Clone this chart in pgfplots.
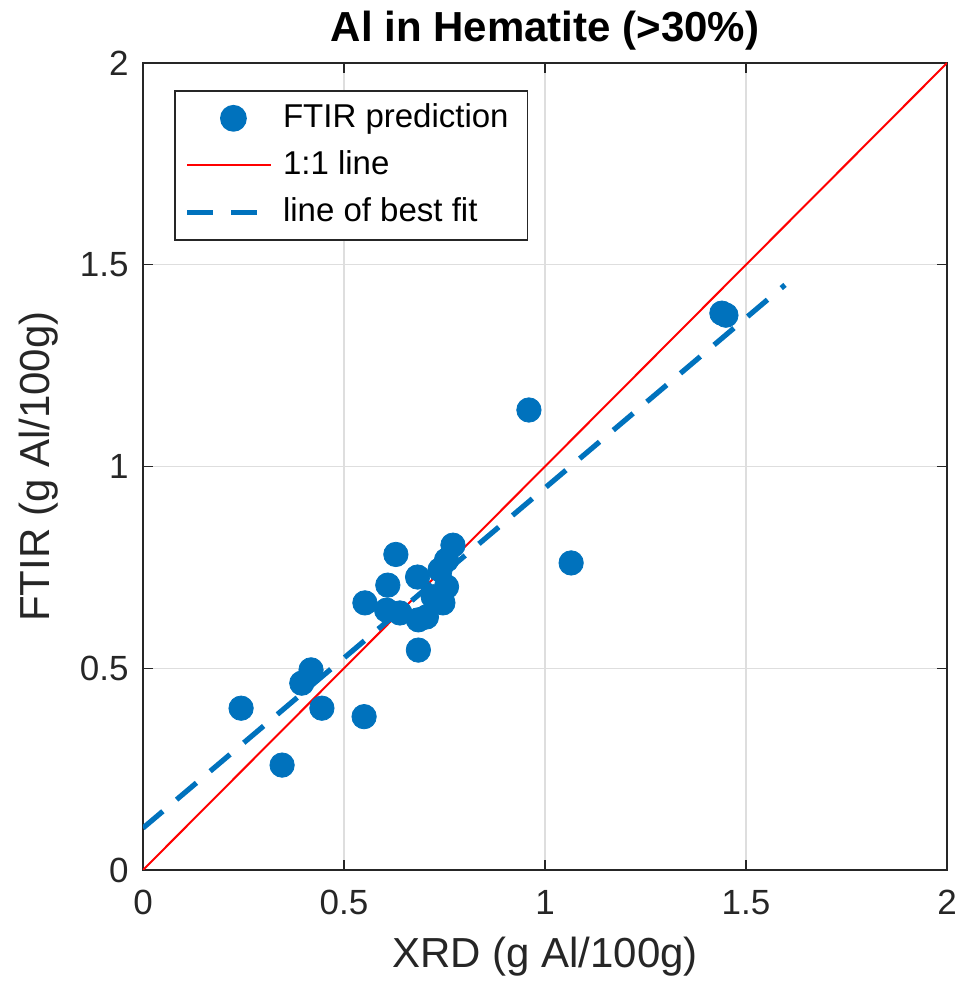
\documentclass[border=0pt]{standalone}
\usepackage{fontspec}
\setmainfont{Liberation Sans}
\usepackage{pgfplots}
\pgfplotsset{compat=1.18}
\definecolor{mblue}{RGB}{0,114,189}
\definecolor{gridgray}{RGB}{222,222,222}
\definecolor{axgray}{RGB}{38,38,38}

\begin{document}
\begin{tikzpicture}
\begin{axis}[
    name=ax,
    scale only axis,
    width=402pt,
    height=403.5pt,
    xmin=0, xmax=2,
    ymin=0, ymax=2,
    xtick={0,0.5,...,2},
    ytick={0,0.5,...,2},
    xticklabels={0,0.5,1,1.5,2},
    yticklabels={0,0.5,1,1.5,2},
    tick align=inside,
    major tick length=5pt,
    tick style={axgray, line width=0.7pt},
    axis line style={axgray, line width=0.8pt},
    grid=major,
    grid style={gridgray, line width=0.7pt},
    ticklabel style={font=\fontsize{17.5}{20}\selectfont, text=axgray},
    xticklabel style={inner xsep=2.5pt, yshift=-6.7pt},
    yticklabel style={xshift=-3.7pt},
    xlabel={XRD (g Al/100g)},
    ylabel={FTIR (g Al/100g)},
    label style={font=\fontsize{21}{24}\selectfont, text=axgray},
    xlabel style={at={(axis description cs:0.5,0)}, anchor=base, yshift=-48.5pt},
    ylabel style={at={(axis description cs:0,0.5)}, anchor=base, yshift=46.5pt},
    every axis title shift=0pt,
    title={\textbf{Al in Hematite (>30\%)}},
    title style={font=\fontsize{21}{24}\selectfont, at={(axis description cs:0.5,1)}, anchor=base, yshift=10.5pt},
    legend style={at={(0.0386,0.9665)}, anchor=north west,
        draw=axgray, line width=0.8pt, fill=white,
        font=\fontsize{16.5}{19}\selectfont,
        nodes={text height=13pt, text depth=3.5pt, inner xsep=4.5pt, inner ysep=0pt},
        row sep=7pt,
        inner xsep=5pt, inner ysep=5.5pt},
    legend cell align=left,
    legend image code/.code={
        \draw[#1] (0pt,0pt) -- (42pt,0pt);
    },
]
\addplot[only marks, mark=*, mark size=6.1pt, mark options={draw=mblue, fill=mblue},
    legend image code/.code={\fill[mblue] (23pt,0pt) circle (6.3pt);}]
coordinates {
(0.244,0.401) (0.346,0.260) (0.395,0.463) (0.418,0.496) (0.445,0.401)
(0.550,0.380) (0.552,0.662) (0.606,0.644) (0.609,0.706) (0.629,0.782)
(0.639,0.637) (0.683,0.726) (0.685,0.545) (0.685,0.620) (0.705,0.627)
(0.722,0.677) (0.739,0.744) (0.746,0.662) (0.755,0.702) (0.755,0.768)
(0.771,0.805) (0.960,1.140) (1.065,0.761) (1.440,1.380) (1.450,1.375)
};
\addlegendentry{FTIR prediction}
\addplot[color=red, line width=1pt] coordinates {(0,0) (2,2)};
\addlegendentry{1:1 line}
\addplot[color=mblue, line width=2.6pt, dash pattern=on 13pt off 9pt] coordinates {(0,0.104) (1.597,1.450)};
\addlegendentry{line of best fit}
\end{axis}
% fix the page to the reference's margins round the axis box
\pgfresetboundingbox
\path[use as bounding box] ([xshift=-71.5pt,yshift=-62pt]ax.south west)
    rectangle ([xshift=8pt,yshift=31.5pt]ax.north east);
\end{tikzpicture}
\end{document}
